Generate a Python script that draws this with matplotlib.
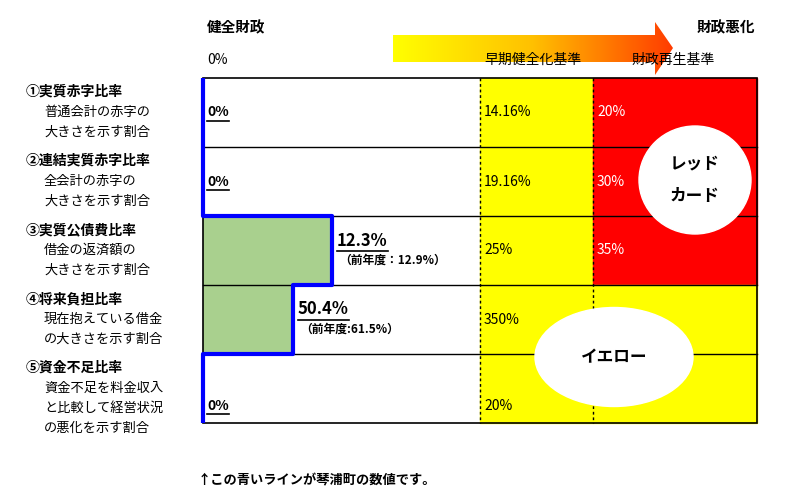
import matplotlib
matplotlib.use("Agg")
import matplotlib.pyplot as plt
import numpy as np
from matplotlib.patches import Rectangle, Ellipse, Polygon
from matplotlib.colors import LinearSegmentedColormap

plt.rcParams["font.family"] = "Noto Sans CJK JP"

# data
titles = ["①実質赤字比率", "②連結実質赤字比率", "③実質公債費比率", "④将来負担比率", "⑤資金不足比率"]
descs = [["普通会計の赤字の", "大きさを示す割合"],
         ["全会計の赤字の", "大きさを示す割合"],
         ["借金の返済額の", "大きさを示す割合"],
         ["現在抱えている借金", "の大きさを示す割合"],
         ["資金不足を料金収入", "と比較して経営状況", "の悪化を示す割合"]]
values = ["0%", "0%", "12.3%", "50.4%", "0%"]
prev_values = [None, None, "（前年度：12.9%）", "（前年度:61.5%）", None]
bar_frac = [0, 0, 0.466, 0.325, 0]   # bar length as share of the span up to the early criterion
early = ["14.16%", "19.16%", "25%", "350%", "20%"]
rebuild = ["20%", "30%", "35%", "", ""]

fig = plt.figure(figsize=(8.03, 5.0), dpi=100)
ax = fig.add_axes([0, 0, 1, 1])
ax.set_xlim(0, 803)
ax.set_ylim(500, 0)
ax.axis("off")

x0, x1, x2, x3 = 203, 480, 593, 757
top, rowh = 78, 69
n = len(titles)
bot = top + rowh * n

ax.add_patch(Rectangle((x1, top), x2 - x1, bot - top, color="#ffff00", zorder=0))
for i in range(n):
    col = "#ff0000" if rebuild[i] else "#ffff00"
    ax.add_patch(Rectangle((x2, top + i * rowh), x3 - x2, rowh, color=col, zorder=0))

# green bars
for i in range(n):
    if bar_frac[i] > 0:
        ax.add_patch(Rectangle((x0, top + i * rowh), bar_frac[i] * (x1 - x0), rowh,
                               facecolor="#a9d08e", edgecolor="none", zorder=1))

# grid
for i in range(1, n):
    ax.plot([x0, x3], [top + i * rowh] * 2, color="black", lw=1, zorder=2)
ax.add_patch(Rectangle((x0, top), x3 - x0, bot - top, fill=False, ec="black", lw=1.2, zorder=2))
for xv in (x1, x2):
    ax.plot([xv, xv], [top, bot], color="black", lw=1, ls=(0, (2, 2)), zorder=2)

# blue line
bx, by = [], []
for i in range(n):
    xe = x0 + bar_frac[i] * (x1 - x0)
    bx += [xe, xe]
    by += [top + i * rowh, top + (i + 1) * rowh]
ax.plot(bx, by, color="#0000ff", lw=3, zorder=4, solid_capstyle="butt")

# bubbles
ax.add_patch(Ellipse((695, 180), 112, 108, color="white", zorder=3))
ax.text(695, 163, "レッド", ha="center", va="center", fontsize=12, fontweight="bold", zorder=5)
ax.text(695, 196, "カード", ha="center", va="center", fontsize=12, fontweight="bold", zorder=5)
ax.add_patch(Ellipse((614, 357), 158, 99, color="white", zorder=3))
ax.text(614, 357, "イエロー", ha="center", va="center", fontsize=12, fontweight="bold", zorder=5)

fig.canvas.draw()
rend = fig.canvas.get_renderer()
inv = ax.transData.inverted()

def underlined(x, y, s, size):
    t = ax.text(x, y, s, ha="left", va="center", fontsize=size, fontweight="bold", zorder=5)
    bb = t.get_window_extent(rend)
    (ax_, ay_), (bx_, by_) = inv.transform([[bb.x0, bb.y0], [bb.x1, bb.y1]])
    ax.plot([ax_, bx_], [ay_ + 1, ay_ + 1], color="black", lw=1.2, zorder=5)

for i in range(n):
    ycen = top + i * rowh + rowh / 2
    if i == 4:
        ycen += 17
    if bar_frac[i] > 0:
        xe = x0 + bar_frac[i] * (x1 - x0)
        underlined(xe + 5, ycen - 10, values[i], 12)
        ax.text(xe + 7, ycen + 10, prev_values[i], ha="left", va="center", fontsize=8.5,
                fontweight="bold", zorder=5)
    else:
        underlined(x0 + 4, ycen, values[i], 10)
    ax.text(x1 + 4, ycen, early[i], ha="left", va="center", fontsize=10, zorder=5)
    if rebuild[i]:
        ax.text(x2 + 4, ycen, rebuild[i], ha="left", va="center", fontsize=10, color="white", zorder=5)

    ty = top + i * rowh + 14
    ax.text(26, ty, titles[i], ha="left", va="center", fontsize=10, fontweight="bold")
    for k, d in enumerate(descs[i]):
        ax.text(44, ty + 20 * (k + 1), d, ha="left", va="center", fontsize=9.5)

# header
ax.text(207, 27, "健全財政", ha="left", va="center", fontsize=10.5, fontweight="bold")
ax.text(697, 27, "財政悪化", ha="left", va="center", fontsize=10.5, fontweight="bold")
ax.text(207, 60, "0%", ha="left", va="center", fontsize=10)
ax.text(484, 60, "早期健全化基準", ha="left", va="center", fontsize=10)
ax.text(632, 60, "財政再生基準", ha="left", va="center", fontsize=10)

# gradient arrow
arrow = Polygon([(393, 35), (655, 35), (655, 22), (673, 48), (655, 75), (655, 62), (393, 62)],
                closed=True, fc="none", ec="none")
ax.add_patch(arrow)
cmap = LinearSegmentedColormap.from_list("g", ["#ffff00", "#ffc000", "#ff3c00"])
grad = np.linspace(0, 1, 256).reshape(1, -1)
im = ax.imshow(grad, cmap=cmap, extent=(393, 673, 75, 22), aspect="auto", zorder=1)
im.set_clip_path(arrow)

ax.text(198, 480, "↑この青いラインが琴浦町の数値です。", ha="left", va="center", fontsize=9.5,
        fontweight="bold")

ax.set_xlim(0, 803)
ax.set_ylim(500, 0)
fig.savefig("out.png", dpi=100)
